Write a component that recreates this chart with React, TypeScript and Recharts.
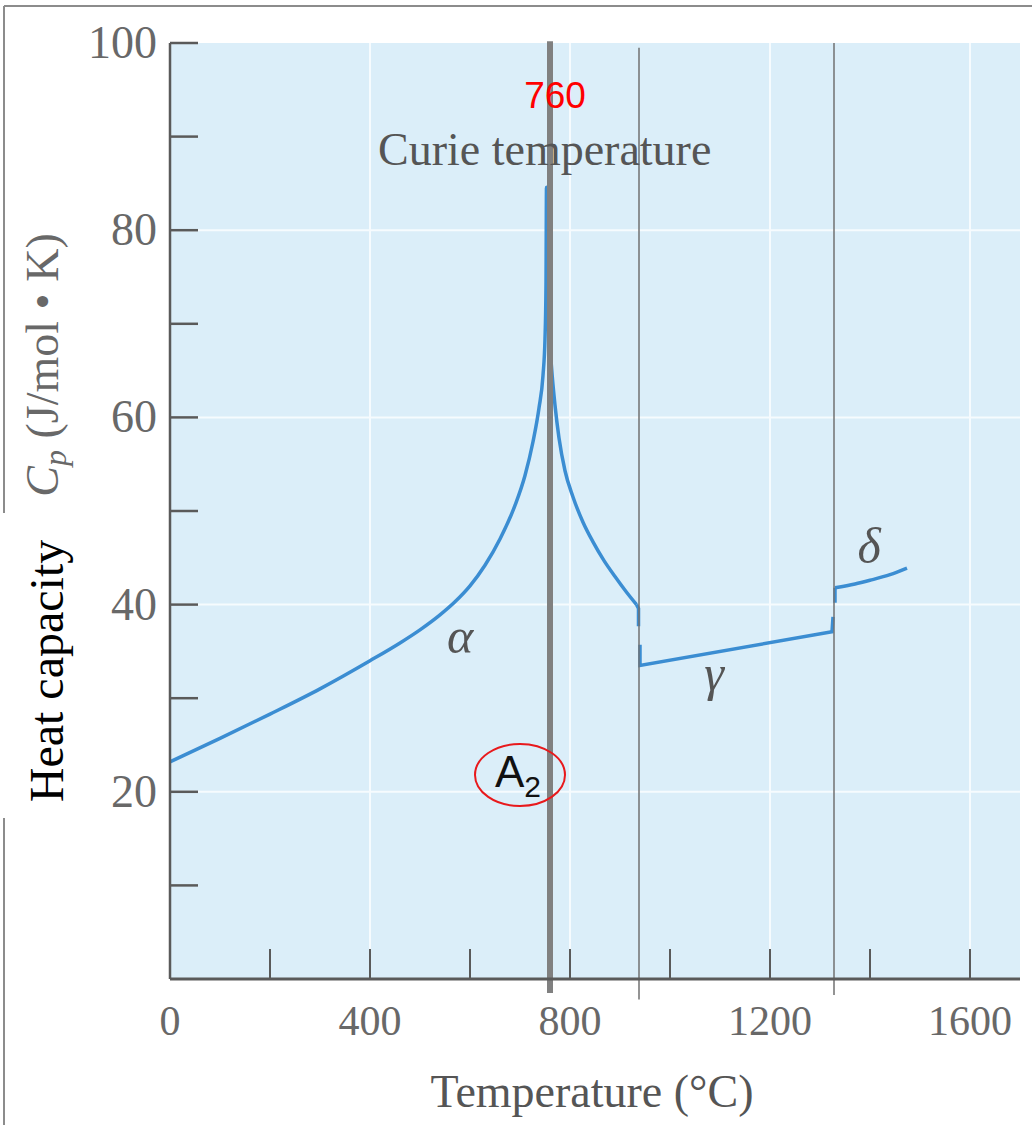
import {
  CartesianGrid,
  Line,
  LineChart,
  ReferenceDot,
  ReferenceLine,
  XAxis,
  YAxis,
} from "recharts";

const SERIF = '"Liberation Serif", "Times New Roman", serif';
const SANS = '"Liberation Sans", Arial, sans-serif';

const PLOT_BG = "#dbeef9";
const GRID = "#f6fbfe";
const AXIS = "#5a5a5a";
const TICK_TEXT = "#686868";
const CURVE = "#3b8dd2";

// alpha iron: up to the Curie peak, then down towards the alpha -> gamma jump
const alphaTemps = [
  0, 100, 200, 300, 400, 460, 500, 540, 570, 600, 630, 660, 690, 710, 726,
  738, 746, 750, 752, 753, 755, 757, 763, 770, 778, 790, 806, 826, 846, 868,
  890, 912, 933,
];
const alphaCp = [
  23.2, 25.7, 28.3, 31.0, 34.0, 35.9, 37.3, 38.9, 40.3, 42.0, 44.2, 47.0,
  50.6, 53.8, 57.4, 61.0, 64.5, 68.4, 74.2, 84.6, 75.0, 70.5, 65.4, 61.3,
  57.8, 54.3, 51.5, 48.8, 46.7, 44.7, 43.0, 41.4, 40.0,
];

// step down at the alpha -> gamma transition
const alphaEndTemps = [933, 937, 937];
const alphaEndCp = [40.0, 39.6, 37.7];

// gamma iron
const gammaTemps = [940, 940, 1324, 1326];
const gammaCp = [35.7, 33.5, 37.1, 38.7];

// delta iron
const deltaTemps = [1330, 1330, 1370, 1400, 1440, 1474];
const deltaCp = [40.2, 41.8, 42.2, 42.6, 43.2, 43.9];

// transition temperatures (°C)
const curieT = 760;
const gammaT = 938;
const deltaT = 1328;

const tempTicks = [0, 200, 400, 600, 800, 1000, 1200, 1400, 1600];
const tempLabels = [0, 400, 800, 1200, 1600];
const cpTicks = [10, 20, 30, 40, 50, 60, 70, 80, 90, 100];
const cpLabels = [20, 40, 60, 80, 100];

const toPoints = (ts: number[], cps: number[]) =>
  ts.map((t, i) => ({ t, cp: cps[i] }));

const alphaData = toPoints(alphaTemps, alphaCp);
const alphaEndData = toPoints(alphaEndTemps, alphaEndCp);
const gammaData = toPoints(gammaTemps, gammaCp);
const deltaJumpData = toPoints(deltaTemps.slice(0, 2), deltaCp.slice(0, 2));
const deltaData = toPoints(deltaTemps.slice(1), deltaCp.slice(1));

function TempTick({ x, y, payload }: any) {
  const v = payload.value as number;
  return (
    <g>
      {v > 0 && (
        <line x1={x} x2={x} y1={y} y2={y - 30} stroke={AXIS} strokeWidth={2} />
      )}
      {tempLabels.includes(v) && (
        <text
          x={x}
          y={y + 56}
          textAnchor="middle"
          style={{ fontFamily: SERIF }}
          fontSize={42}
          fill={TICK_TEXT}
        >
          {v}
        </text>
      )}
    </g>
  );
}

function CpTick({ x, y, payload }: any) {
  const v = payload.value as number;
  return (
    <g>
      <line x1={x} x2={x + 28} y1={y} y2={y} stroke={AXIS} strokeWidth={2.5} />
      {cpLabels.includes(v) && (
        <text
          x={x - 13}
          y={y + 15}
          textAnchor="end"
          style={{ fontFamily: SERIF }}
          fontSize={46}
          fill={TICK_TEXT}
        >
          {v}
        </text>
      )}
    </g>
  );
}

// rotated axis title plus the page frame around it
function CpTitle() {
  return (
    <g>
      <line x1={4} x2={1032} y1={6} y2={6} stroke="#8c8c8c" strokeWidth={2} />
      <line x1={4} x2={4} y1={6} y2={513} stroke="#8c8c8c" strokeWidth={2} />
      <line x1={4} x2={4} y1={818} y2={1125} stroke="#8c8c8c" strokeWidth={2} />
      <text
        x={58}
        y={365}
        transform="rotate(-90, 58, 365)"
        textAnchor="middle"
        style={{ fontFamily: SERIF }}
        fontSize={46}
        fill={TICK_TEXT}
      >
        <tspan fontStyle="italic">C</tspan>
        <tspan fontStyle="italic" fontSize={32} dy={8}>
          p
        </tspan>
        <tspan dy={-8}> (J/mol • K)</tspan>
      </text>
      <text
        x={63}
        y={671}
        transform="rotate(-90, 63, 671)"
        textAnchor="middle"
        style={{ fontFamily: SERIF }}
        fontSize={48}
        fill="#000"
      >
        Heat capacity
      </text>
    </g>
  );
}

function TempTitle() {
  return (
    <text
      x={592}
      y={1107}
      textAnchor="middle"
      style={{ fontFamily: SERIF }}
      fontSize={46}
      fill="#555"
    >
      Temperature (°C)
    </text>
  );
}

const greek = (ch: string) => (p: any) => (
  <text
    x={p.cx}
    y={p.cy}
    textAnchor="middle"
    style={{ fontFamily: SERIF }}
    fontStyle="italic"
    fontSize={50}
    fill="#555"
  >
    {ch}
  </text>
);

const curveProps = {
  dataKey: "cp",
  stroke: CURVE,
  strokeWidth: 3.5,
  dot: false,
  activeDot: false,
  isAnimationActive: false,
} as const;

export default function App() {
  return (
    <div style={{ position: "absolute", left: 0, top: 0, background: "#fff" }}>
      <LineChart
        width={1032}
        height={1125}
        margin={{ top: 43, right: 12, bottom: 0, left: 0 }}
      >
        <CartesianGrid
          fill={PLOT_BG}
          fillOpacity={1}
          stroke={GRID}
          strokeWidth={2}
          horizontalValues={[20, 40, 60, 80]}
          verticalValues={[400, 800, 1200, 1600]}
        />
        <XAxis
          type="number"
          dataKey="t"
          domain={[0, 1700]}
          ticks={tempTicks}
          tick={<TempTick />}
          tickLine={false}
          tickSize={0}
          tickMargin={0}
          axisLine={{ stroke: AXIS, strokeWidth: 3 }}
          height={146}
          label={{ content: () => <TempTitle /> }}
        />
        <YAxis
          type="number"
          domain={[0, 100]}
          ticks={cpTicks}
          tick={<CpTick />}
          tickLine={false}
          tickSize={0}
          tickMargin={0}
          axisLine={{ stroke: AXIS, strokeWidth: 2.5 }}
          width={170}
          label={{ content: () => <CpTitle /> }}
        />
        <Line data={alphaData} type="monotone" {...curveProps} />
        <Line data={alphaEndData} type="linear" {...curveProps} />
        <Line data={gammaData} type="linear" {...curveProps} />
        <Line data={deltaJumpData} type="linear" {...curveProps} />
        <Line data={deltaData} type="monotone" {...curveProps} />
        <ReferenceLine
          segment={[
            { x: curieT, y: 100.2 },
            { x: curieT, y: -1.5 },
          ]}
          stroke="#808080"
          strokeWidth={6}
          ifOverflow="visible"
        />
        <ReferenceLine
          segment={[
            { x: gammaT, y: 99.5 },
            { x: gammaT, y: -2.2 },
          ]}
          stroke="#707070"
          strokeWidth={1.5}
          ifOverflow="visible"
        />
        <ReferenceLine
          segment={[
            { x: deltaT, y: 100 },
            { x: deltaT, y: -1.7 },
          ]}
          stroke="#707070"
          strokeWidth={1.5}
          ifOverflow="visible"
        />
        <ReferenceDot
          x={770}
          y={93.05}
          ifOverflow="visible"
          shape={(p: any) => (
            <text
              x={p.cx}
              y={p.cy}
              textAnchor="middle"
              style={{ fontFamily: SANS }}
              fontSize={37}
              fill="#ff0000"
            >
              {curieT}
            </text>
          )}
        />
        <ReferenceDot
          x={416}
          y={87}
          ifOverflow="visible"
          shape={(p: any) => (
            <text
              x={p.cx}
              y={p.cy}
              style={{ fontFamily: SERIF }}
              fontSize={46}
              fill="#555"
            >
              Curie temperature
            </text>
          )}
        />
        <ReferenceDot x={580} y={34.8} ifOverflow="visible" shape={greek("α")} />
        <ReferenceDot x={1088} y={30.9} ifOverflow="visible" shape={greek("γ")} />
        <ReferenceDot x={1398} y={44.4} ifOverflow="visible" shape={greek("δ")} />
        <ReferenceDot
          x={700}
          y={21.8}
          ifOverflow="visible"
          shape={(p: any) => (
            <g>
              <ellipse
                cx={p.cx}
                cy={p.cy}
                rx={45}
                ry={31}
                fill="none"
                stroke="#e8191c"
                strokeWidth={2}
              />
              <text
                x={p.cx - 25}
                y={p.cy + 12}
                style={{ fontFamily: SANS }}
                fontSize={44}
                fill="#111"
              >
                A
                <tspan fontSize={30} dy={10}>
                  2
                </tspan>
              </text>
            </g>
          )}
        />
      </LineChart>
    </div>
  );
}
